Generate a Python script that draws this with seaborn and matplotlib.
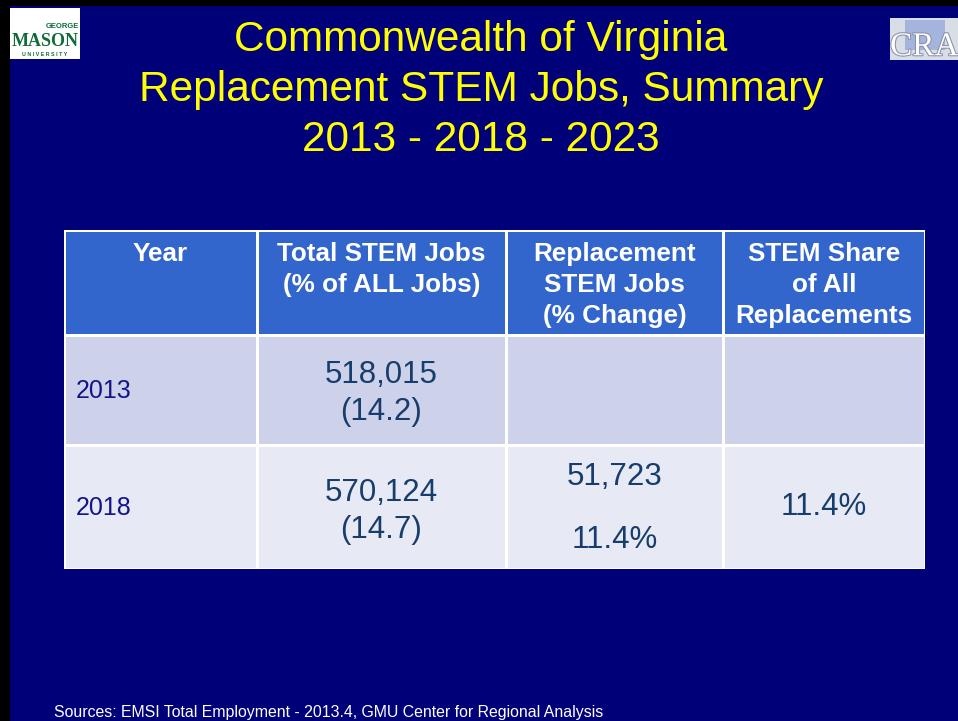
import numpy as np
import matplotlib
matplotlib.use("Agg")
import matplotlib.pyplot as plt
from matplotlib.colors import ListedColormap
from matplotlib.patches import Rectangle
import matplotlib.patheffects as pe
import seaborn as sns

# slide text / table data
title_lines = ["Commonwealth of Virginia", "Replacement STEM Jobs, Summary", "2013 - 2018 - 2023"]
headers = ["Year", "Total STEM Jobs\n(% of ALL Jobs)", "Replacement\nSTEM Jobs\n(% Change)",
           "STEM Share\nof All\nReplacements"]
years = ["2013", "2018"]
total_jobs = ["518,015", "570,124"]
total_share = ["(14.2)", "(14.7)"]
replacement_jobs = ["", "51,723"]
replacement_change = ["", "11.4%"]
stem_share = ["", "11.4%"]
source = "Sources: EMSI Total Employment - 2013.4, GMU Center for Regional Analysis"

# cell kind: 0 = header, 1 = odd row, 2 = even row
cell_kind = np.array([[0, 0, 0, 0],
                      [1, 1, 1, 1],
                      [2, 2, 2, 2]])
cell_colors = ["#3366CC", "#CDD1EA", "#E7E9F4"]

# column / row edges in pixels (table is not evenly spaced)
col_px = [0, 193, 442, 659, 861]
row_px = [0, 104.5, 214.5, 339]

W, H = 958, 721
NAVY = "#000078"
BODY = "#173D6C"
YEARC = "#13138A"

sns.set_theme(style="white")
plt.rcParams["font.family"] = ["Liberation Sans", "DejaVu Sans"]

fig = plt.figure(figsize=(W / 100, H / 100), dpi=100)
fig.patch.set_facecolor("black")


def fx(x):
    return x / W


def fy(y):
    return 1 - y / H


# navy slide background with thin black frame on left/top
fig.patches.append(Rectangle((fx(10), 0), 1 - fx(10), fy(6), transform=fig.transFigure,
                             facecolor=NAVY, edgecolor="none", zorder=-5))

# title
for i, line in enumerate(title_lines):
    fig.text(fx(481), fy(40 + 50 * i), line, color="#FFFF00", fontsize=30.5,
             ha="center", va="center")

# table drawn as a heatmap
ax = fig.add_axes([fx(64), fy(569), fx(861), 339 / H])
ax.set_zorder(2)
sns.heatmap(cell_kind, cmap=ListedColormap(cell_colors), vmin=-0.5, vmax=2.5, cbar=False,
            linewidths=1.8, linecolor="white", xticklabels=False, yticklabels=False, ax=ax)
cols = np.arange(len(col_px))
rows = np.arange(len(row_px))
ax.set_xscale("function", functions=(lambda v: np.interp(v, cols, col_px),
                                     lambda v: np.interp(v, col_px, cols)))
ax.set_yscale("function", functions=(lambda v: np.interp(v, rows, row_px),
                                     lambda v: np.interp(v, row_px, rows)))
ax.set_xlim(0, 4)
ax.set_ylim(3, 0)
ax.set_xticks([])
ax.set_yticks([])
ax.set_xlabel("")
ax.set_ylabel("")

# header text
for j, h in enumerate(headers):
    ax.text(j + 0.5, 0.115, h, color="white", fontsize=18.8, fontweight="bold",
            ha="center", va="top", linespacing=1.36)

# body rows
for i in range(len(years)):
    r = i + 1
    ax.text(0.062, r + 0.51, years[i], color=YEARC, fontsize=18, ha="left", va="center")
    ax.text(1.5, r + 0.54, total_jobs[i] + "\n" + total_share[i], color=BODY, fontsize=22.5,
            ha="center", va="center", linespacing=1.3)
    if replacement_jobs[i]:
        ax.text(2.5, r + 0.26, replacement_jobs[i], color=BODY, fontsize=22.5,
                ha="center", va="center")
        ax.text(2.5, r + 0.77, replacement_change[i], color=BODY, fontsize=22.5,
                ha="center", va="center")
    if stem_share[i]:
        ax.text(3.5, r + 0.5, stem_share[i], color=BODY, fontsize=22.5,
                ha="center", va="center")

# footer
fig.text(fx(54), fy(712), source, color="white", fontsize=11.4, ha="left", va="center")

# GMU logo (approximation)
fig.patches.append(Rectangle((fx(10), fy(59)), fx(70), 51 / H, transform=fig.transFigure,
                             facecolor="white", edgecolor="none"))
fig.text(fx(45), fy(41), "MASON", color="#0F6B38", fontsize=13, fontweight="bold",
         family="Liberation Serif", ha="center", va="center")
fig.text(fx(62), fy(27), "GEORGE", color="#0F6B38", fontsize=5.5, fontweight="bold",
         ha="center", va="center")
fig.text(fx(45), fy(54), "U N I V E R S I T Y", color="#0F6B38", fontsize=3.8,
         fontweight="bold", ha="center", va="center")

# CRA logo (approximation)
fig.patches.append(Rectangle((fx(890), fy(60)), fx(68), 42 / H, transform=fig.transFigure,
                             facecolor="#D9DDE6", edgecolor="none"))
fig.patches.append(Rectangle((fx(905), fy(50)), fx(40), 30 / H, transform=fig.transFigure,
                             facecolor="#8FA3D8", edgecolor="none", alpha=0.7))
fig.text(fx(890), fy(47), "CRA", color="white", fontsize=24, family="Liberation Serif",
         ha="left", va="center",
         path_effects=[pe.withStroke(linewidth=1.5, foreground="#8890A8")])

fig.savefig("out.png", dpi=100, facecolor=fig.get_facecolor())
